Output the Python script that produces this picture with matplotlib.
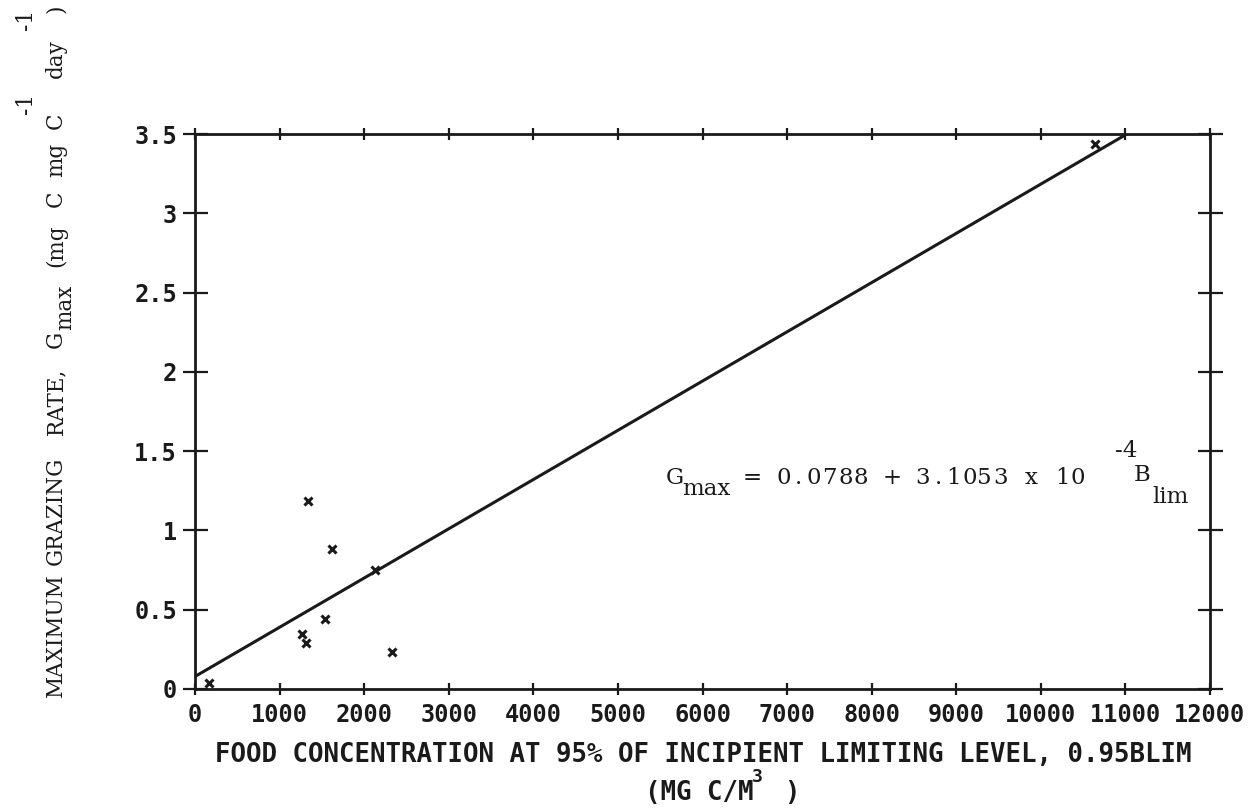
"""
Maximum grazing rate vs. food concentration at 95% of incipient limiting level.
Scatter of G_max with the fitted regression line, typewriter-style labels.
"""
import matplotlib
matplotlib.use("Agg")
import matplotlib.pyplot as plt
from matplotlib.transforms import IdentityTransform

# data
food_conc = [165, 1265, 1312, 1336, 1537, 1620, 2128, 2329, 10640]
gmax = [0.04, 0.35, 0.29, 1.185, 0.44, 0.883, 0.75, 0.233, 3.44]

# regression shown on the chart: G_max = 0.0788 + 3.1053e-4 * B_lim
intercept = 0.0788
slope = 3.1053e-4
fit_x = [0, 11018]
fit_y = [intercept + slope * v for v in fit_x]

x_ticks = list(range(0, 12001, 1000))
y_ticks = [0, 0.5, 1, 1.5, 2, 2.5, 3, 3.5]
y_tick_labels = ["0", "0.5", "1", "1.5", "2", "2.5", "3", "3.5"]

W, H = 1253, 810
SEG = "DejaVu Sans Mono"     # stands in for the plotter's segment font
TYPE = "DejaVu Serif"        # stands in for the typewriter face
INK = "#1a1a1a"

fig = plt.figure(figsize=(W / 100, H / 100), dpi=100)
ax = fig.add_axes([195 / W, 1 - 689 / H, (1210 - 195) / W, (689 - 134) / H])

ax.plot(fit_x, fit_y, color=INK, lw=2.2, solid_capstyle="round")
ax.plot(food_conc, gmax, ls="none", marker="x", ms=6, mew=2.2, color=INK)

ax.set_xlim(0, 12000)
ax.set_ylim(0, 3.5)
ax.set_xticks(x_ticks)
ax.set_xticklabels([str(v) for v in x_ticks], family=SEG, fontsize=17, weight="bold")
ax.set_yticks(y_ticks)
ax.set_yticklabels(y_tick_labels, family=SEG, fontsize=17, weight="bold")
ax.tick_params(direction="inout", width=1.6, color=INK, labelcolor=INK,
               top=True, right=True)
ax.tick_params(axis="x", length=8, pad=6)
ax.tick_params(axis="y", length=18, pad=4)
for s in ax.spines.values():
    s.set_linewidth(2)
    s.set_color(INK)


def put(txt, x, y, size, rot=0, ha="left"):
    # x, y are image pixels, origin top left
    fig.text(x, H - y, txt, transform=IdentityTransform(), rotation=rot,
             rotation_mode="anchor", ha=ha, va="baseline",
             family=TYPE, fontsize=size, color=INK)


def type_words(s, col, x0, y0, pitch, size, vertical=False):
    """every word centred on the typewriter cells it takes"""
    i = 0
    for w in s.split(" "):
        if w:
            mid = col + i + len(w) / 2
            if vertical:
                put(w, x0, y0 - mid * pitch, size, rot=90, ha="center")
            else:
                put(w, x0 + mid * pitch, y0, size, ha="center")
        i += len(w) + 1


def type_chars(s, col, x0, y0, pitch, size):
    """one char per cell, centred"""
    for i, ch in enumerate(s):
        if ch != " ":
            put(ch, x0 + (col + i + 0.5) * pitch, y0, size, ha="center")


# y axis label, typed bottom to top: (text, column, baseline x)
YP = 15.6
ylab = [("MAXIMUM GRAZING RATE, G", 0, 62),
        ("max", 23, 71),
        ("(mg C mg C", 27, 62),
        ("-1", 36.6, 32),
        ("day", 39, 62),
        ("-1", 42, 32),
        (")", 43.2, 62)]
for txt, col, xb in ylab:
    type_words(txt, col, xb, 690, YP, 15.5, vertical=True)

# fitted equation: (text, column, baseline y)
EP = 15.5
X0 = 667
type_chars("G", 0, X0, 484, EP, 16.5)
put("max", X0 + 1 * EP, 495, 16.5)
type_chars("= 0.0788 + 3.1053 x 10", 5, X0, 484, EP, 16.5)
put("-4", X0 + 28.9 * EP, 457, 16.5)
put("B", X0 + 30.1 * EP, 481, 16.5)
put("lim", X0 + 31.3 * EP, 503, 16.5)

# x axis label
fig.text(215 / W, 1 - 762 / H,
         "FOOD CONCENTRATION AT 95% OF INCIPIENT LIMITING LEVEL, 0.95BLIM",
         ha="left", va="baseline", family=SEG, fontsize=18.5, weight="bold", color=INK)
fig.text(645 / W, 1 - 800 / H, "(MG C/M", ha="left", va="baseline",
         family=SEG, fontsize=18.5, weight="bold", color=INK)
fig.text(752 / W, 1 - 782 / H, "3", ha="left", va="baseline",
         family=SEG, fontsize=13, weight="bold", color=INK)
fig.text(784 / W, 1 - 800 / H, ")", ha="left", va="baseline",
         family=SEG, fontsize=18.5, weight="bold", color=INK)

fig.savefig("out.png", dpi=100, facecolor="white")
